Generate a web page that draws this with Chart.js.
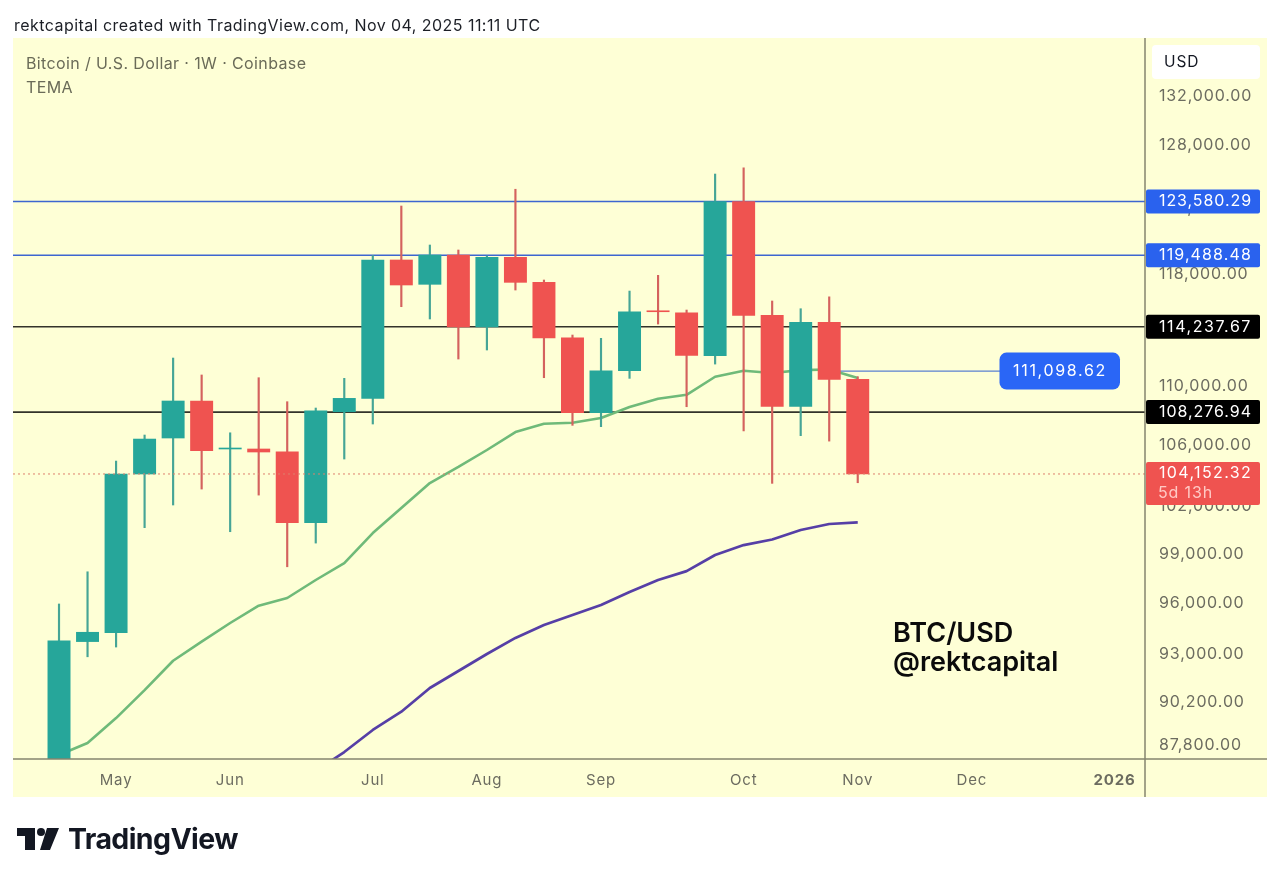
<!DOCTYPE html>
<html><head><meta charset="utf-8">
<style>
html,body{margin:0;padding:0;background:#fff;width:1280px;height:882px;overflow:hidden;font-family:Inter,"Noto Sans",sans-serif}
canvas{position:absolute;left:0;top:0}
.t{position:absolute;white-space:nowrap;line-height:1}
</style>
<script src="https://cdn.jsdelivr.net/npm/chart.js@4/dist/chart.umd.min.js"></script>
</head><body>
<canvas id="c" width="1280" height="882"></canvas>
<div class="t" style="left:14px;top:17px;font-size:16px;letter-spacing:.45px;color:#1c1f26">rektcapital created with TradingView.com, Nov 04, 2025 11:11 UTC</div>
<div class="t" style="left:26px;top:55px;font-size:16px;letter-spacing:.38px;color:#6a6b58">Bitcoin / U.S. Dollar · 1W · Coinbase</div>
<div class="t" style="left:26px;top:79px;font-size:16px;letter-spacing:.38px;color:#6a6b58">TEMA</div>
<div class="t" style="left:893px;top:619px;font-size:27px;font-weight:600;color:#0b0b0b">BTC/USD</div>
<div class="t" style="left:893px;top:648px;font-size:27px;font-weight:600;color:#0b0b0b">@rektcapital</div>
<svg style="position:absolute;left:0;top:820px" width="70" height="40"><path d="M17 8H35V30H25V16H17Z M47 8H59L50 30H40Z" fill="#131722"/><circle cx="41" cy="12" r="4" fill="#131722"/></svg>
<div class="t" style="left:68px;top:825px;font-size:28.5px;font-weight:700;color:#131722;letter-spacing:-.6px">TradingView</div>
<script>
const weeks=["Apr 21","Apr 28","May 5","May 12","May 19","May 26","Jun 2","Jun 9","Jun 16","Jun 23","Jun 30","Jul 7","Jul 14","Jul 21","Jul 28","Aug 4","Aug 11","Aug 18","Aug 25","Sep 1","Sep 8","Sep 15","Sep 22","Sep 29","Oct 6","Oct 13","Oct 20","Oct 27","Nov 3"];
const opens=[84000,93750,94270,104150,106530,109034,105798,105798,105618,101015,108300,109215,119125,117320,119490,114220,119326,117465,113450,108232,111125,115388,115245,112178,123580,115056,108670,114555,110525];
const closes=[93800,94300,104150,106460,109034,105685,105864,105598,101015,108370,109215,119125,117270,119495,114220,119326,117465,113430,108232,111125,115318,115318,112206,123580,115056,108670,114555,110525,104152.32];
const highs=[95990,97950,105000,106730,112015,110830,106880,110640,108986,108554,110595,119461,123231,120251,119875,119424,124535,117637,113645,113410,116825,117985,115442,125730,126225,116098,115537,116402,110708];
const lows=[83000,92860,93430,100700,102143,103170,100445,102780,98258,99730,105133,107470,115683,114795,111945,112581,116900,110640,107380,107290,110595,114430,108643,111591,106998,103540,106687,106323,103580];
const temaFast=[87307,87970,89354,90940,92630,93746,94850,95886,96350,97446,98488,100362,101950,103560,104610,105731,106930,107489,107558,107875,108622,109191,109460,110708,111125,110965,111167,111215,110616];
const temaSlowStart=9;
const temaSlow=[86430,87472,88690,89712,91058,92036,93022,93965,94732,95324,95928,96711,97446,97990,98986,99605,99952,100555,100931,101040];
const blueLevels=[123580.29,119488.48];
const blackLevels=[114237.67,108276.94];
const lastPrice=104152.32;
const countdown="5d 13h";
const calloutLevel=111098.62;
const priceTicks=[132000,128000,123000,118000,110000,106000,102000,99000,96000,93000,90200,87800];
const monthTickWeeks=[2,6,11,15,19,24,28,32,37];
const monthTickLabels=["May","Jun","Jul","Aug","Sep","Oct","Nov","Dec","2026"];
const X_MIN=-1.613,X_MAX=38.07,Y_MIN=87089,Y_MAX=136938;
const GREEN="#26a69a",RED="#ef5350",BG="#feffd6";
const fmt=v=>v.toLocaleString("en-US",{minimumFractionDigits:2,maximumFractionDigits:2});
const up=i=>closes[i]>=opens[i];
const colors=weeks.map((_,i)=>up(i)?GREEN:RED);
const wickColors=weeks.map((_,i)=>up(i)?"#46a596":"#d4625e");
const hline=(v,x0=X_MIN,x1=X_MAX)=>[{x:x0,y:v},{x:x1,y:v}];
const lineDs=(data,color,w,order,extra={})=>Object.assign({type:"line",data,borderColor:color,borderWidth:w,pointRadius:0,tension:0,order,borderJoinStyle:"round"},extra);

const font="Inter, 'Noto Sans', sans-serif";
const fitText=(c,s,x,y,w)=>{c.letterSpacing="0px";const m=c.measureText(s).width;c.letterSpacing=((w-m)/s.length).toFixed(2)+"px";c.fillText(s,x,y);c.letterSpacing="0.85px";};
const decor={id:"decor",
 beforeDraw(ch){const c=ch.ctx;c.save();c.fillStyle=BG;c.fillRect(13,38,1254,759);c.restore();c.letterSpacing="0.85px";},
 afterDraw(ch){
  const c=ch.ctx,y=ch.scales.y,a=ch.chartArea;
  c.save();
  c.strokeStyle="#85856f";c.lineWidth=1.5;
  c.beginPath();c.moveTo(a.right,38);c.lineTo(a.right,797);c.moveTo(13,a.bottom);c.lineTo(1267,a.bottom);c.stroke();
  const badge=(v,bg)=>{const py=y.getPixelForValue(v);
    c.fillStyle=bg;c.beginPath();c.roundRect(a.right+1,py-12,114,24,2);c.fill();
    return py;};
  c.textBaseline="middle";c.textAlign="left";c.font="16px "+font;
  blueLevels.forEach(v=>{const p=badge(v,"#2a62ee");c.fillStyle="#fff";fitText(c,fmt(v),1159,p,93);});
  blackLevels.forEach(v=>{const p=badge(v,"#000");c.fillStyle="#fff";fitText(c,fmt(v),1159,p,93);});
  const lp=y.getPixelForValue(lastPrice);
  c.fillStyle=RED;c.beginPath();c.roundRect(a.right+1,lp-12,114,43,2);c.fill();
  c.fillStyle="#fff";fitText(c,fmt(lastPrice),1159,lp-1,93);
  c.fillStyle="#ffc9c4";c.fillText(countdown,1158,lp+19);
  c.fillStyle="#fff";c.beginPath();c.roundRect(1152,45,108,34,4);c.fill();
  c.fillStyle="#131722";c.font="15.5px "+font;c.fillText("USD",1164,62);
  const cp=y.getPixelForValue(calloutLevel);
  c.fillStyle="#2a66f6";c.beginPath();c.roundRect(999.5,cp-18.5,120.5,37,7);c.fill();
  c.fillStyle="#fff";c.font="16px "+font;fitText(c,fmt(calloutLevel),1013,cp,94);
  c.restore();
 }};

new Chart(document.getElementById("c"),{
 type:"bar",
 data:{datasets:[
  lineDs(hline(lastPrice),"#de7f6c",1,1,{borderDash:[2,3]}),
  {label:"body",data:weeks.map((_,i)=>({x:i,y:[opens[i],closes[i]]})),backgroundColor:colors,barThickness:22.3,grouped:false,order:2,borderWidth:0},
  {label:"wick",data:weeks.map((_,i)=>({x:i,y:[lows[i],highs[i]]})),backgroundColor:wickColors,barThickness:1.5,grouped:false,order:3,borderWidth:0},
  lineDs(temaFast.map((v,i)=>({x:i,y:v})),"#6fba79",2.6,4),
  lineDs(temaSlow.map((v,i)=>({x:i+temaSlowStart,y:v})),"#563fa6",2.7,4),
  lineDs(hline(calloutLevel,27,33),"#5a80d0",1.3,5),
  ...blueLevels.map(v=>lineDs(hline(v),"#3d66d0",1.5,5)),
  ...blackLevels.map(v=>lineDs(hline(v),"#33332a",1.7,5))
 ]},
 options:{responsive:false,animation:false,devicePixelRatio:1,
  layout:{padding:{left:13,top:38,right:13,bottom:85}},
  plugins:{legend:{display:false},tooltip:{enabled:false},title:{display:false}},
  scales:{
   x:{type:"linear",offset:false,min:X_MIN,max:X_MAX,grid:{display:false},border:{display:false},
    afterBuildTicks(s){s.ticks=monthTickWeeks.map(v=>({value:v}));},
    afterFit(s){s.height=38;},
    ticks:{autoSkip:false,maxRotation:0,padding:4,color:"#6c6c60",
     font:ctx=>({family:font,size:15,weight:ctx.tick&&ctx.tick.value===37?"700":"400"}),
     callback:v=>monthTickLabels[monthTickWeeks.indexOf(v)]}},
   y:{type:"logarithmic",position:"right",min:Y_MIN,max:Y_MAX,grid:{display:false},border:{display:false},
    afterBuildTicks(s){s.ticks=priceTicks.map(v=>({value:v}));},
    afterFit(s){s.width=122;},
    ticks:{autoSkip:false,padding:6,labelOffset:-0.7,color:"#6c6c60",crossAlign:"near",align:"center",font:{family:font,size:16},callback:v=>fmt(v)}}
  }},
 plugins:[decor]});
</script>
</body></html>
